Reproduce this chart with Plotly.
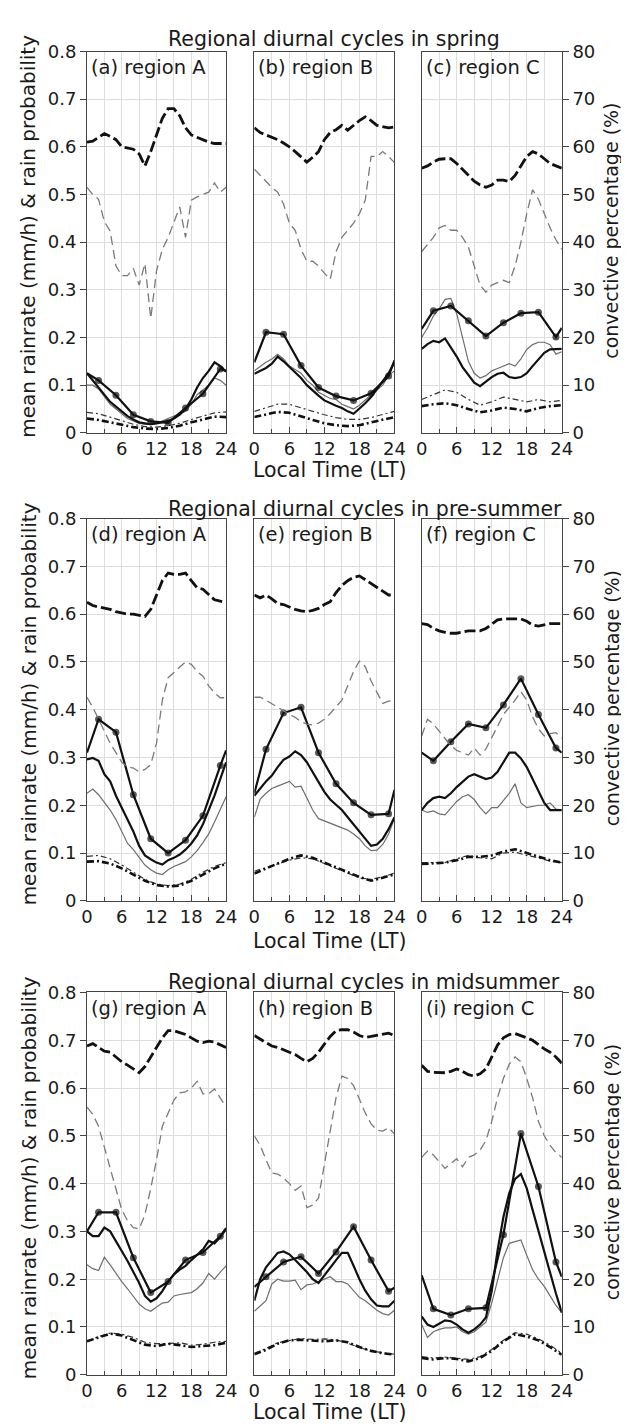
import plotly.graph_objects as go

# ---------------- data ----------------
HOURS = list(range(25))
HOURS2 = list(range(0, 25, 2))
DOT_HOURS = [0, 2, 5, 8, 11, 14, 17, 20, 23, 24]
SEASONS = ["spring", "pre-summer", "midsummer"]
REGIONS = ["A", "B", "C"]
LETTERS = ["a", "b", "c", "d", "e", "f", "g", "h", "i"]
X_TICKS = [0, 6, 12, 18, 24]
X_MINOR = [3, 9, 15, 21]

# (a) spring, region A
a_pct_thick = [61, 61.2, 62, 62.8, 62.2, 61.5, 60, 59.8, 59.5, 58.5, 56, 59, 62.5, 66, 68, 68, 66.5, 64, 62.5, 62, 61.5, 61, 60.7, 60.7, 60.7]
a_pct_thin = [51.5, 50, 49, 44.3, 42.3, 35, 33, 33, 34.5, 31, 35.5, 24, 34, 38.5, 41, 44, 47.4, 41, 48.8, 49.5, 50, 50.5, 52.4, 50.5, 51.5]
a_rr_dots = [0.125, 0.11, 0.079, 0.038, 0.024, 0.021, 0.052, 0.082, 0.134, 0.13]
a_rr_thick = [0.125, 0.11, 0.095, 0.08, 0.065, 0.055, 0.045, 0.035, 0.028, 0.022, 0.02, 0.018, 0.02, 0.022, 0.025, 0.03, 0.038, 0.05, 0.07, 0.095, 0.115, 0.13, 0.148, 0.14, 0.128]
a_rr_thin = [0.1, 0.1, 0.092, 0.075, 0.06, 0.05, 0.04, 0.03, 0.025, 0.02, 0.018, 0.017, 0.02, 0.025, 0.03, 0.035, 0.04, 0.045, 0.06, 0.08, 0.09, 0.1, 0.115, 0.11, 0.1]
a_prob_thin = [0.043, 0.04, 0.033, 0.025, 0.018, 0.013, 0.012, 0.015, 0.02, 0.028, 0.035, 0.042, 0.044]
a_prob_thick = [0.03, 0.027, 0.022, 0.017, 0.012, 0.009, 0.008, 0.01, 0.015, 0.022, 0.028, 0.034, 0.033]

# (b) spring, region B
b_pct_thick = [64, 63, 62.5, 62, 61.5, 60.8, 60, 59, 58, 56.8, 57.8, 59, 61.5, 63, 63.6, 64.5, 63.5, 64.6, 65.5, 66.3, 65.5, 64.5, 64.2, 64, 64.2]
b_pct_thin = [55.3, 54, 52.8, 51.5, 50.5, 48, 44, 42.5, 38.5, 36, 36, 35, 33.5, 32.2, 38, 41, 42.5, 44, 46, 48.8, 58, 58, 59, 58, 56.7]
b_rr_dots = [0.148, 0.211, 0.207, 0.141, 0.095, 0.077, 0.068, 0.083, 0.119, 0.152]
b_rr_thick = [0.124, 0.13, 0.136, 0.145, 0.16, 0.15, 0.138, 0.127, 0.115, 0.1, 0.088, 0.078, 0.068, 0.062, 0.057, 0.052, 0.045, 0.04, 0.05, 0.062, 0.075, 0.092, 0.108, 0.125, 0.148]
b_rr_thin = [0.13, 0.14, 0.148, 0.155, 0.165, 0.155, 0.14, 0.133, 0.125, 0.11, 0.1, 0.085, 0.078, 0.072, 0.07, 0.06, 0.055, 0.05, 0.058, 0.07, 0.08, 0.09, 0.1, 0.12, 0.13]
b_prob_thin = [0.045, 0.052, 0.06, 0.06, 0.052, 0.045, 0.038, 0.032, 0.028, 0.028, 0.032, 0.038, 0.045]
b_prob_thick = [0.033, 0.038, 0.044, 0.042, 0.034, 0.027, 0.02, 0.016, 0.014, 0.016, 0.022, 0.028, 0.033]

# (c) spring, region C
c_pct_thick = [55.5, 56, 56.8, 57.4, 57.5, 57.5, 56.5, 55.3, 54, 52.8, 52, 51.5, 52, 53, 53, 52.7, 54, 56, 58, 59, 58.5, 57.5, 56.5, 56, 55.5]
c_pct_thin = [38, 39.5, 41, 43, 43.5, 42.5, 42.5, 41, 39, 35, 31, 29.5, 31, 31.5, 32, 31.5, 35, 40, 46, 51, 49, 46, 43, 40.5, 38.5]
c_rr_dots = [0.218, 0.256, 0.266, 0.235, 0.203, 0.231, 0.251, 0.253, 0.201, 0.22]
c_rr_thick = [0.176, 0.186, 0.193, 0.19, 0.198, 0.18, 0.16, 0.138, 0.122, 0.105, 0.098, 0.108, 0.117, 0.124, 0.126, 0.117, 0.115, 0.117, 0.125, 0.14, 0.155, 0.168, 0.175, 0.176, 0.176]
c_rr_thin = [0.2, 0.22, 0.245, 0.26, 0.28, 0.282, 0.25, 0.2, 0.15, 0.125, 0.115, 0.12, 0.13, 0.135, 0.14, 0.145, 0.14, 0.155, 0.175, 0.185, 0.19, 0.19, 0.185, 0.165, 0.17]
c_prob_thin = [0.07, 0.08, 0.09, 0.085, 0.07, 0.058, 0.065, 0.075, 0.07, 0.065, 0.07, 0.065, 0.068]
c_prob_thick = [0.056, 0.06, 0.062, 0.058, 0.05, 0.043, 0.047, 0.053, 0.05, 0.045, 0.052, 0.056, 0.058]

# (d) pre-summer, region A
d_pct_thick = [62.5, 61.8, 61.5, 61.2, 61, 60.5, 60.2, 60, 60, 59.8, 59.5, 61, 64, 67, 68.6, 68.3, 68.3, 68.6, 67, 65.5, 65.2, 64, 63, 62.7, 62.5]
d_pct_thin = [42.6, 40.5, 38, 35.5, 33, 31, 29, 28, 27.8, 27, 27.5, 28.5, 33, 42, 46.7, 47.8, 49, 50, 49.5, 48, 47, 45, 43.5, 42.5, 42.5]
d_rr_dots = [0.31, 0.38, 0.353, 0.222, 0.13, 0.1, 0.127, 0.178, 0.283, 0.315]
d_rr_thick = [0.296, 0.299, 0.293, 0.265, 0.25, 0.22, 0.195, 0.17, 0.145, 0.115, 0.095, 0.087, 0.08, 0.076, 0.085, 0.09, 0.097, 0.107, 0.12, 0.137, 0.16, 0.19, 0.22, 0.255, 0.29]
d_rr_thin = [0.225, 0.234, 0.222, 0.205, 0.19, 0.17, 0.145, 0.12, 0.107, 0.09, 0.075, 0.065, 0.058, 0.055, 0.065, 0.072, 0.077, 0.082, 0.092, 0.105, 0.122, 0.14, 0.165, 0.19, 0.218]
d_prob_thin = [0.093, 0.095, 0.088, 0.075, 0.06, 0.045, 0.035, 0.032, 0.035, 0.045, 0.06, 0.072, 0.08]
d_prob_thick = [0.082, 0.083, 0.078, 0.068, 0.055, 0.042, 0.033, 0.03, 0.032, 0.042, 0.055, 0.068, 0.078]

# (e) pre-summer, region B
e_pct_thick = [64, 63.4, 64, 63.2, 62.2, 62, 61.5, 61, 60.7, 60.5, 60.8, 61.2, 62, 62.6, 64.5, 66, 67, 67.7, 68, 67.2, 66.3, 65.5, 64.8, 64, 64]
e_pct_thin = [42.6, 42.6, 42, 41.2, 40.5, 39.8, 39, 38.4, 37.5, 37, 36.8, 37.2, 38, 39.2, 40.5, 42, 45, 48, 50.2, 49, 46, 43.5, 41.3, 41.8, 42]
e_rr_dots = [0.225, 0.317, 0.393, 0.405, 0.31, 0.245, 0.205, 0.18, 0.182, 0.232]
e_rr_thick = [0.22, 0.236, 0.25, 0.262, 0.28, 0.295, 0.302, 0.313, 0.305, 0.29, 0.27, 0.25, 0.228, 0.212, 0.2, 0.19, 0.175, 0.16, 0.145, 0.128, 0.115, 0.118, 0.13, 0.15, 0.175]
e_rr_thin = [0.175, 0.213, 0.225, 0.235, 0.24, 0.245, 0.25, 0.238, 0.24, 0.215, 0.19, 0.172, 0.167, 0.162, 0.158, 0.153, 0.148, 0.14, 0.13, 0.115, 0.105, 0.106, 0.118, 0.14, 0.172]
e_prob_thin = [0.062, 0.07, 0.078, 0.085, 0.09, 0.088, 0.078, 0.068, 0.058, 0.048, 0.045, 0.05, 0.058]
e_prob_thick = [0.057, 0.068, 0.078, 0.088, 0.095, 0.09, 0.08, 0.07, 0.06, 0.05, 0.042, 0.048, 0.055]

# (f) pre-summer, region C
f_pct_thick = [58, 57.8, 57, 56.5, 56.2, 56, 56, 56.2, 56.5, 56.5, 56.5, 57, 58, 58.8, 59, 59, 59, 59, 58.5, 57.7, 57.5, 57.8, 58, 58, 58]
f_pct_thin = [34.5, 38, 37, 35.5, 34, 32.5, 31.5, 31, 30.5, 32, 30.5, 31.8, 34, 36.5, 39, 40.5, 42, 43.8, 42, 38.5, 36, 34.5, 35, 35.2, 34]
f_rr_dots = [0.31, 0.293, 0.333, 0.37, 0.362, 0.41, 0.465, 0.39, 0.32, 0.31]
f_rr_thick = [0.19, 0.205, 0.215, 0.218, 0.215, 0.225, 0.238, 0.25, 0.26, 0.265, 0.26, 0.255, 0.258, 0.27, 0.29, 0.31, 0.31, 0.298, 0.28, 0.255, 0.23, 0.205, 0.19, 0.19, 0.19]
f_rr_thin = [0.19, 0.185, 0.188, 0.182, 0.18, 0.195, 0.208, 0.218, 0.222, 0.212, 0.195, 0.182, 0.195, 0.195, 0.21, 0.225, 0.245, 0.205, 0.195, 0.198, 0.2, 0.2, 0.205, 0.192, 0.19]
f_prob_thin = [0.08, 0.08, 0.08, 0.088, 0.095, 0.09, 0.088, 0.1, 0.102, 0.095, 0.09, 0.083, 0.08]
f_prob_thick = [0.077, 0.078, 0.08, 0.085, 0.092, 0.092, 0.095, 0.103, 0.108, 0.1, 0.092, 0.085, 0.08]

# (g) midsummer, region A
g_pct_thick = [68.8, 69.3, 68.5, 67.7, 67.5, 66.5, 65.5, 64.8, 64, 63.2, 64.5, 66.5, 68.8, 70.5, 72, 72, 71.6, 71.2, 70.5, 69.8, 69.5, 69.8, 69.6, 69, 68.5]
g_pct_thin = [56, 54.5, 52, 47.5, 43, 39, 34.5, 32.2, 30.8, 30.5, 33.5, 39, 45, 52, 54.8, 57.5, 59, 59.2, 60, 61.4, 58.8, 58.8, 59.8, 58, 56]
g_rr_dots = [0.3, 0.34, 0.34, 0.245, 0.172, 0.195, 0.24, 0.256, 0.29, 0.307]
g_rr_thick = [0.3, 0.29, 0.29, 0.308, 0.3, 0.28, 0.26, 0.238, 0.215, 0.192, 0.165, 0.153, 0.16, 0.175, 0.195, 0.21, 0.22, 0.228, 0.24, 0.25, 0.262, 0.28, 0.275, 0.288, 0.305]
g_rr_thin = [0.23, 0.222, 0.218, 0.246, 0.23, 0.212, 0.195, 0.18, 0.163, 0.148, 0.138, 0.133, 0.142, 0.15, 0.152, 0.165, 0.168, 0.17, 0.172, 0.18, 0.192, 0.212, 0.2, 0.215, 0.228]
g_prob_thin = [0.07, 0.08, 0.087, 0.085, 0.078, 0.068, 0.065, 0.065, 0.067, 0.062, 0.064, 0.068, 0.07]
g_prob_thick = [0.07, 0.078, 0.086, 0.082, 0.072, 0.063, 0.06, 0.065, 0.062, 0.058, 0.06, 0.062, 0.067]

# (h) midsummer, region B
h_pct_thick = [71, 70.2, 69.5, 68.8, 68.5, 68, 67.5, 67, 66.2, 65.5, 66.2, 67.5, 69.2, 70.8, 72, 72.2, 72.2, 71.7, 71, 70.6, 70.8, 71, 71.2, 71.5, 71]
h_pct_thin = [50, 48, 45, 42.2, 42, 41.2, 40, 38.6, 39.5, 35, 35.5, 37, 44, 50.7, 58, 62.5, 62, 60.5, 57.5, 54.8, 52.5, 51.2, 51, 51.7, 50.4]
h_rr_dots = [0.184, 0.205, 0.236, 0.247, 0.212, 0.257, 0.31, 0.24, 0.175, 0.182]
h_rr_thick = [0.155, 0.2, 0.225, 0.24, 0.255, 0.258, 0.252, 0.24, 0.228, 0.215, 0.2, 0.192, 0.208, 0.225, 0.24, 0.255, 0.255, 0.228, 0.2, 0.176, 0.158, 0.145, 0.143, 0.143, 0.155]
h_rr_thin = [0.133, 0.143, 0.155, 0.19, 0.2, 0.196, 0.196, 0.198, 0.178, 0.188, 0.19, 0.195, 0.2, 0.205, 0.195, 0.195, 0.19, 0.175, 0.162, 0.155, 0.145, 0.135, 0.128, 0.125, 0.135]
h_prob_thin = [0.045, 0.055, 0.067, 0.072, 0.076, 0.074, 0.075, 0.073, 0.066, 0.057, 0.05, 0.046, 0.043]
h_prob_thick = [0.043, 0.052, 0.065, 0.072, 0.073, 0.072, 0.07, 0.072, 0.068, 0.058, 0.05, 0.045, 0.042]

# (i) midsummer, region C
i_pct_thick = [64.8, 63.5, 63.3, 63.2, 63.2, 63.5, 64, 63.5, 62.8, 62.5, 63, 64, 66.5, 69, 70.5, 71.2, 71.4, 71, 70.5, 70, 69, 68.2, 67.5, 66.5, 65.2]
i_pct_thin = [45.5, 46.8, 46, 44.7, 43.2, 44.2, 45.2, 43.5, 45.5, 46, 47, 49, 53, 58, 62, 65, 66.5, 65.5, 62, 58, 53, 50, 48, 46.5, 45.5]
i_rr_dots = [0.208, 0.138, 0.125, 0.138, 0.14, 0.293, 0.505, 0.394, 0.236, 0.205]
i_rr_thick = [0.122, 0.105, 0.1, 0.107, 0.114, 0.112, 0.105, 0.095, 0.088, 0.095, 0.105, 0.12, 0.175, 0.26, 0.33, 0.38, 0.41, 0.42, 0.39, 0.345, 0.3, 0.255, 0.215, 0.17, 0.13]
i_rr_thin = [0.105, 0.078, 0.09, 0.095, 0.098, 0.098, 0.1, 0.09, 0.085, 0.09, 0.1, 0.11, 0.15, 0.2, 0.245, 0.275, 0.278, 0.282, 0.25, 0.22, 0.2, 0.185, 0.165, 0.145, 0.13]
i_prob_thin = [0.038, 0.035, 0.037, 0.035, 0.032, 0.038, 0.053, 0.072, 0.088, 0.085, 0.075, 0.062, 0.045]
i_prob_thick = [0.035, 0.032, 0.035, 0.033, 0.028, 0.035, 0.05, 0.07, 0.085, 0.08, 0.072, 0.058, 0.042]

PANELS = [
    (a_pct_thick, a_pct_thin, a_rr_dots, a_rr_thick, a_rr_thin, a_prob_thin, a_prob_thick),
    (b_pct_thick, b_pct_thin, b_rr_dots, b_rr_thick, b_rr_thin, b_prob_thin, b_prob_thick),
    (c_pct_thick, c_pct_thin, c_rr_dots, c_rr_thick, c_rr_thin, c_prob_thin, c_prob_thick),
    (d_pct_thick, d_pct_thin, d_rr_dots, d_rr_thick, d_rr_thin, d_prob_thin, d_prob_thick),
    (e_pct_thick, e_pct_thin, e_rr_dots, e_rr_thick, e_rr_thin, e_prob_thin, e_prob_thick),
    (f_pct_thick, f_pct_thin, f_rr_dots, f_rr_thick, f_rr_thin, f_prob_thin, f_prob_thick),
    (g_pct_thick, g_pct_thin, g_rr_dots, g_rr_thick, g_rr_thin, g_prob_thin, g_prob_thick),
    (h_pct_thick, h_pct_thin, h_rr_dots, h_rr_thick, h_rr_thin, h_prob_thin, h_prob_thick),
    (i_pct_thick, i_pct_thin, i_rr_dots, i_rr_thick, i_rr_thin, i_prob_thin, i_prob_thick),
]

# ---------------- layout geometry (pixels) ----------------
W, H = 629, 1428
COL_PX = [(75, 218), (247, 391), (419, 563)]
ROW_PX = [(33, 420), (507, 895), (988, 1376)]
TITLE_Y = [20, 497, 977]
XLABEL_Y = [458, 936, 1414]
FONT = "DejaVu Sans"
INK = "#1a1a1a"
GRID = "#dedede"


def px_x(x):
    return x / W


def px_y(y):
    return 1 - y / H


fig = go.Figure()
layout = dict(
    width=W, height=H, margin=dict(l=0, r=0, t=0, b=0),
    paper_bgcolor="white", plot_bgcolor="white", showlegend=False,
    font=dict(family=FONT, size=18, color=INK),
)
annotations = []

for k in range(9):
    r, c = divmod(k, 3)
    n = k + 1
    xs = "" if n == 1 else str(n)
    ys = xs
    y2n = str(n + 9)
    xd = [px_x(COL_PX[c][0]), px_x(COL_PX[c][1])]
    yd = [px_y(ROW_PX[r][1]), px_y(ROW_PX[r][0])]

    layout["xaxis" + xs] = dict(
        domain=xd, anchor="y" + ys, range=[0, 24],
        tickvals=X_TICKS, ticks="inside", ticklen=6, tickcolor="#444",
        showgrid=True, gridcolor=GRID, gridwidth=1,
        minor=dict(tickvals=X_MINOR, ticks="inside", ticklen=4, tickcolor="#444",
                   showgrid=True, gridcolor=GRID, gridwidth=1),
        showline=True, mirror=True, linecolor="#444", linewidth=1,
        zeroline=False, tickfont=dict(size=18, color=INK), fixedrange=True,
    )
    layout["yaxis" + ys] = dict(
        domain=yd, anchor="x" + xs, range=[0, 0.8], dtick=0.1,
        showgrid=True, gridcolor=GRID, gridwidth=1,
        showline=True, mirror=True, linecolor="#444", linewidth=1,
        zeroline=False, ticks="outside" if c == 0 else "", ticklen=6, tickcolor="#444",
        showticklabels=(c == 0), tickfont=dict(size=18, color=INK), fixedrange=True,
    )
    layout["yaxis" + y2n] = dict(
        overlaying="y" + ys, anchor="x" + xs, side="right", range=[0, 80], dtick=10,
        showgrid=False, zeroline=False, showline=False,
        ticks="outside" if c == 2 else "", ticklen=6, tickcolor="#444",
        showticklabels=(c == 2), visible=(c == 2),
        tickfont=dict(size=18, color=INK), fixedrange=True,
    )

    pct_thick, pct_thin, rr_dots, rr_thick, rr_thin, prob_thin, prob_thick = PANELS[k]
    ax = dict(xaxis="x" + xs, yaxis="y" + ys)
    ax2 = dict(xaxis="x" + xs, yaxis="y" + y2n)

    fig.add_trace(go.Scatter(x=HOURS2, y=prob_thin, mode="lines",
                             line=dict(color="#333", width=1.2, dash="6px,3px,2px,3px"), **ax))
    fig.add_trace(go.Scatter(x=HOURS2, y=prob_thick, mode="lines",
                             line=dict(color="#111", width=2.6, dash="7px,3px,2px,3px"), **ax))
    fig.add_trace(go.Scatter(x=HOURS, y=rr_thin, mode="lines",
                             line=dict(color="#6e6e6e", width=1.2), **ax))
    fig.add_trace(go.Scatter(x=HOURS, y=rr_thick, mode="lines",
                             line=dict(color="#111", width=2.2), **ax))
    sizes = [0] + [7] * (len(DOT_HOURS) - 2) + [0]
    fig.add_trace(go.Scatter(x=DOT_HOURS, y=rr_dots, mode="lines+markers",
                             line=dict(color="#111", width=2.2),
                             marker=dict(color="#111", size=sizes, line=dict(width=0)), **ax))
    fig.add_trace(go.Scatter(x=HOURS, y=pct_thin, mode="lines",
                             line=dict(color="#7a7a7a", width=1.3, dash="9px,5px"), **ax2))
    fig.add_trace(go.Scatter(x=HOURS, y=pct_thick, mode="lines",
                             line=dict(color="#111", width=2.8, dash="11px,4px"), **ax2))

    # panel label
    annotations.append(dict(
        text="(%s) region %s" % (LETTERS[k], REGIONS[c]),
        x=px_x(COL_PX[c][0] + 2), y=px_y(ROW_PX[r][0] + 16),
        xref="paper", yref="paper", xanchor="left", yanchor="middle",
        showarrow=False, font=dict(size=19.5, color=INK),
    ))

for r in range(3):
    annotations.append(dict(
        text="Regional diurnal cycles in " + SEASONS[r],
        x=px_x(156), y=px_y(TITLE_Y[r]), xref="paper", yref="paper",
        xanchor="left", yanchor="middle", showarrow=False, font=dict(size=20.5, color=INK),
    ))
    annotations.append(dict(
        text="Local Time (LT)", x=px_x(324), y=px_y(XLABEL_Y[r]),
        xref="paper", yref="paper", xanchor="center", yanchor="middle",
        showarrow=False, font=dict(size=20.5, color=INK),
    ))
    mid = (ROW_PX[r][0] + ROW_PX[r][1]) / 2
    annotations.append(dict(
        text="mean rainrate (mm/h) & rain probability", textangle=-90,
        x=px_x(15), y=px_y(mid - 6), xref="paper", yref="paper",
        xanchor="center", yanchor="middle", showarrow=False, font=dict(size=20, color=INK),
    ))
    annotations.append(dict(
        text="convective percentage (%)", textangle=-90,
        x=px_x(614), y=px_y(mid - 12), xref="paper", yref="paper",
        xanchor="center", yanchor="middle", showarrow=False, font=dict(size=19, color=INK),
    ))

layout["annotations"] = annotations
fig.update_layout(**layout)
fig.write_html("out.html")
